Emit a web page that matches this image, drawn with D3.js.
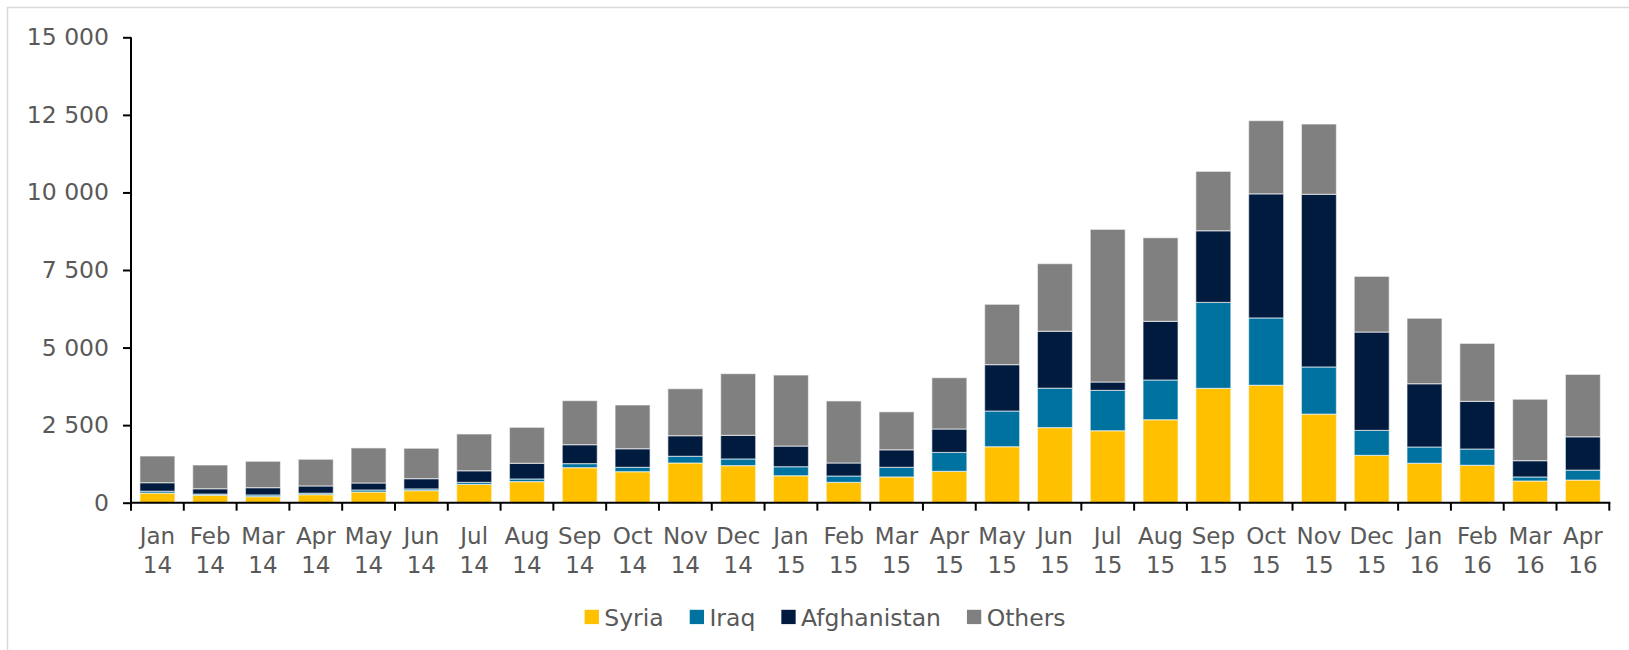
<!DOCTYPE html>
<html>
<head>
<meta charset="utf-8">
<script src="https://cdn.jsdelivr.net/npm/d3@7/dist/d3.min.js"></script>
<style>
  html, body { margin: 0; padding: 0; background: #ffffff; }
  svg { display: block; }
  text { font-family: "DejaVu Sans", Verdana, sans-serif; fill: #595959; }
</style>
</head>
<body>
<svg id="chart" width="1629" height="650"></svg>
<script>
const monthLabels = ["Jan","Feb","Mar","Apr","May","Jun","Jul","Aug","Sep","Oct","Nov","Dec",
                     "Jan","Feb","Mar","Apr","May","Jun","Jul","Aug","Sep","Oct","Nov","Dec",
                     "Jan","Feb","Mar","Apr"];
const yearLabels = ["14","14","14","14","14","14","14","14","14","14","14","14",
                    "15","15","15","15","15","15","15","15","15","15","15","15",
                    "16","16","16","16"];
const seriesNames = ["Syria", "Iraq", "Afghanistan", "Others"];
const syria       = [310, 240, 195, 260, 345, 390, 590, 680, 1130, 1000, 1280, 1195, 870, 655, 830, 1010, 1805, 2420, 2320, 2675, 3685, 3785, 2855, 1525, 1270, 1205, 700, 730];
const iraq        = [60, 40, 55, 45, 65, 55, 65, 85, 130, 140, 215, 215, 290, 205, 310, 610, 1150, 1270, 1300, 1280, 2770, 2170, 1520, 805, 525, 525, 130, 320];
const afghanistan = [275, 170, 235, 235, 225, 330, 375, 505, 610, 600, 665, 760, 665, 420, 565, 755, 1495, 1835, 270, 1890, 2310, 4000, 5565, 3170, 2040, 1535, 525, 1075];
const others      = [860, 765, 850, 860, 1130, 980, 1185, 1160, 1420, 1410, 1515, 1990, 2290, 2000, 1225, 1655, 1945, 2180, 4920, 2695, 1915, 2360, 2265, 1795, 2110, 1870, 1980, 2010];
const yTicks = [0, 2500, 5000, 7500, 10000, 12500, 15000];
const colors = ["#FFC000", "#0072A0", "#001B3E", "#808080"];

const svg = d3.select("#chart");

// outer frame
svg.append("rect")
  .attr("x", 7.5).attr("y", 7.5)
  .attr("width", 1660).attr("height", 700)
  .attr("fill", "none").attr("stroke", "#d9d9d9").attr("stroke-width", 1.5);

const x0 = 131, x1 = 1609.3, yBase = 502.7, yTop = 37.3;

const idx = d3.range(monthLabels.length);
const x = d3.scaleBand().domain(idx).range([x0, x1]).paddingInner(0.337).paddingOuter(0.1685);
const y = d3.scaleLinear().domain([0, 15000]).range([yBase, yTop]);

const table = idx.map(i => ({ i, Syria: syria[i], Iraq: iraq[i], Afghanistan: afghanistan[i], Others: others[i] }));
const stack = d3.stack().keys(seriesNames)(table);

const g = svg.append("g");
stack.forEach((layer, k) => {
  g.append("g").selectAll("rect").data(layer).join("rect")
    .attr("x", d => x(d.data.i))
    .attr("width", x.bandwidth())
    .attr("y", d => y(d[1]))
    .attr("height", d => y(d[0]) - y(d[1]))
    .attr("fill", colors[k])
    .attr("stroke", "rgba(255,255,255,0.55)")
    .attr("stroke-width", 1.2);
});

// y axis
const yAxis = d3.axisLeft(y).tickValues(yTicks).tickSize(8).tickPadding(14)
  .tickFormat(d => d3.format(",")(d).replace(/,/g, " "));
const ya = svg.append("g").attr("transform", `translate(${x0},0)`).call(yAxis);
ya.select(".domain").attr("stroke", "#000").attr("stroke-width", 2).attr("d", `M0,${yTop}V${yBase}`);
ya.selectAll(".tick line").attr("stroke", "#000").attr("stroke-width", 2);
ya.selectAll(".tick text").attr("font-size", 23.5).attr("fill", "#595959")
  .style("font-family", '"DejaVu Sans", Verdana, sans-serif');

// x axis with ticks at band boundaries
const xa = svg.append("g");
xa.append("line").attr("x1", x0 - 1).attr("x2", x1 + 1).attr("y1", yBase).attr("y2", yBase)
  .attr("stroke", "#000").attr("stroke-width", 2);
const step = x.step();
const bounds = d3.range(monthLabels.length + 1).map(i => x0 + i * step);
xa.selectAll("line.tk").data(bounds).join("line").attr("class", "tk")
  .attr("x1", d => d).attr("x2", d => d).attr("y1", yBase).attr("y2", yBase + 8)
  .attr("stroke", "#000").attr("stroke-width", 2);

const lbl = xa.selectAll("text.lbl").data(idx).join("text").attr("class", "lbl")
  .attr("text-anchor", "middle").attr("font-size", 23);
lbl.append("tspan").attr("x", d => x(d) + x.bandwidth() / 2).attr("y", 543.5).text(d => monthLabels[d]);
lbl.append("tspan").attr("x", d => x(d) + x.bandwidth() / 2).attr("y", 572.5).text(d => yearLabels[d]);

// legend
const leg = svg.append("g");
let lx = 584.6;
seriesNames.forEach((name, k) => {
  leg.append("rect").attr("x", lx).attr("y", 609.8).attr("width", 14.3).attr("height", 14.3).attr("fill", colors[k]);
  const t = leg.append("text").attr("x", lx + 19.7).attr("y", 625.8).attr("font-size", 23.5).text(name);
  lx = lx + 19.7 + t.node().getComputedTextLength() + 26;
});
</script>
</body>
</html>
